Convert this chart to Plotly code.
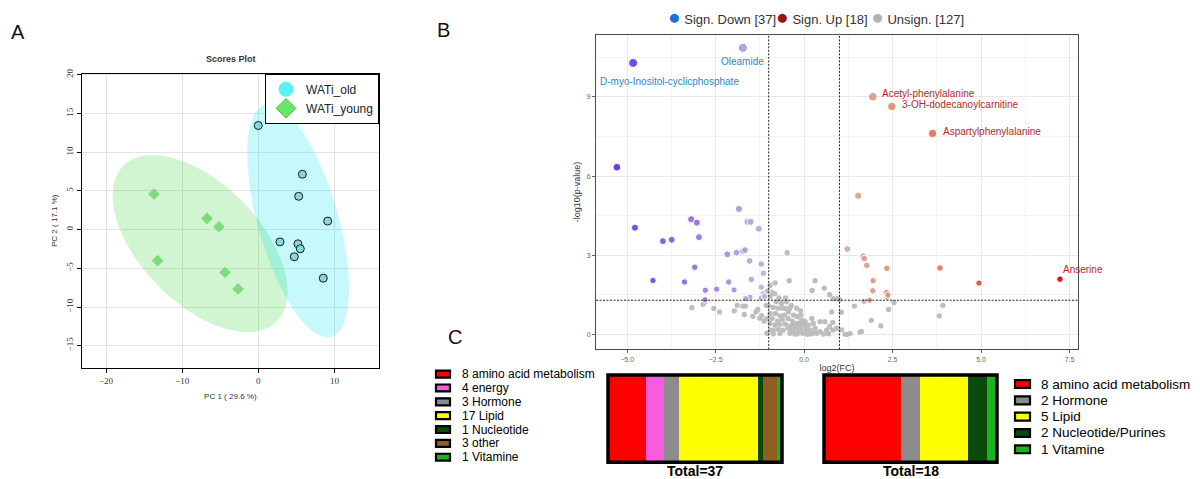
import numpy as np
import plotly.graph_objects as go

# ---------------- Panel A: PCA scores ----------------
old_pc1 = [0.0, 5.79, 5.31, 9.12, 2.85, 5.21, 5.52, 4.73, 8.54]
old_pc2 = [13.46, 7.16, 4.31, 1.11, -1.58, -1.83, -2.47, -3.50, -6.27]
young_pc1 = [-13.71, -6.74, -5.16, -13.22, -4.37, -2.66]
young_pc2 = [4.60, 1.45, 0.38, -4.01, -5.50, -7.67]
group_names = ["WATi_old", "WATi_young"]
pc1_label = "PC 1 ( 29.6 %)"
pc2_label = "PC 2 ( 17.1 %)"
pca_ticks_x = [-20, -10, 0, 10]
pca_ticks_y = [-15, -10, -5, 0, 5, 10, 15, 20]

# ---------------- Panel B: volcano ----------------
down_x = [-1.73, -4.83, -5.29, -4.78, -3.99, -3.74, -3.19, -3.03, -2.97, -4.27,
          -3.38, -3.09, -2.79, -2.47, -2.17, -1.91, -1.73, -1.67, -1.84, -1.60,
          -1.51, -1.28, -1.54, -1.21, -1.15, -2.13, -1.49, -1.98, -1.21, -1.09,
          -1.15, -1.53, -1.65, -1.21, -2.80, -1.12, -1.04]
down_y = [10.86, 10.29, 6.34, 4.05, 3.54, 3.59, 4.37, 4.24, 3.69, 2.05,
          1.99, 2.55, 1.68, 1.72, 3.04, 3.10, 3.16, 3.20, 4.76, 4.27,
          4.27, 4.01, 2.79, 2.67, 2.32, 1.99, 2.09, 1.69, 1.80, 1.59,
          1.55, 1.42, 1.36, 1.39, 1.32, 1.45, 1.65]
down_labels = ["Oleamide", "D-myo-Inositol-cyclicphosphate"] + [""] * 35

up_x = [1.94, 2.48, 3.63, 1.53, 1.22, 1.67, 1.70, 1.77, 2.34, 3.84,
        1.95, 1.94, 2.33, 2.35, 1.85, 4.94, 7.23, 2.37]
up_y = [9.01, 8.64, 7.62, 5.26, 3.24, 2.97, 2.88, 2.62, 2.51, 2.52,
        2.04, 1.66, 1.60, 1.42, 1.30, 1.95, 2.10, 1.50]
up_labels = ["Acetyl-phenylalanine", "3-OH-dodecanoylcarnitine", "Aspartylphenylalanine"] \
    + [""] * 13 + ["Anserine", ""]

gray_x = [-3.17, -2.85, -2.55, -2.39, -1.97, -1.89, -1.73, -1.66, -1.69, -1.45,
          -1.36, -1.31, -1.13, -1.07, -1.05, -1.20, -1.25, -2.80,
          -0.96, -0.82, -0.48, -0.42, 0.31, 0.23, 0.57, 0.72, 0.83, 0.94,
          -0.89, -0.83, -0.71, -0.52, -0.96, -0.93,
          1.42, 1.69, 2.54, 2.39, 1.90, 2.17, 1.62, 3.92, 3.82, 1.06,
          1.21, 1.30, 1.00, 1.05,
          -1.00, -0.87, -0.79, -0.61, -0.53, -0.40, -0.81, -0.68, -0.56, -0.44,
          -0.30, -0.90, -0.75, -0.61, -0.45, -0.33, -0.19, -0.96, -0.82, -0.68,
          -0.53, -0.38, -0.26, -0.12, -0.87, -0.73, -0.59, -0.44, -0.31, -0.16,
          -0.04, 0.03, 0.09, -0.07, -0.21, -0.94, 0.17, 0.25, 0.36, 0.12,
          0.22, 0.26, 0.45, 0.59, 0.64, 0.81, 0.81, 0.78, 0.92, 1.16,
          1.58, -1.05, -0.96, -0.73, -0.64, -0.50, -0.36, -0.21, -0.19, -0.07,
          0.03, -0.09, 0.05, -0.40, -0.26, -0.87, -0.68, -0.19, 0.31, 0.45,
          0.55, 0.69, 0.72, -0.31, -0.14, -0.02, 0.12, 0.19, -0.10]
gray_y = [1.02, 1.15, 0.99, 0.86, 0.90, 1.11, 1.08, 1.08, 0.76, 0.69,
          0.86, 0.95, 0.51, 1.11, 0.05, 0.72, 0.62, 1.24,
          1.86, 1.96, 3.10, 2.04, 2.04, 1.67, 1.76, 1.51, 1.36, 1.36,
          1.57, 1.55, 1.39, 1.39, 1.45, 1.62,
          1.08, 1.26, 1.22, 0.95, 0.54, 0.33, 0.12, 1.11, 0.71, 0.18,
          0.01, 0.04, 1.32, 0.85,
          1.09, 1.03, 1.24, 1.00, 0.99, 1.00, 0.80, 0.71, 0.74, 0.86,
          0.74, 0.61, 0.51, 0.57, 0.61, 0.51, 0.42, 0.42, 0.36, 0.38,
          0.40, 0.34, 0.30, 0.27, 0.17, 0.20, 0.17, 0.24, 0.17, 0.11,
          0.05, 0.11, 0.01, 0.17, 0.24, 0.17, 0.17, 0.05, 0.05, 0.36,
          0.61, 0.42, 0.49, 0.49, 0.17, 0.17, 0.46, 0.86, 0.24, 0.01,
          0.09, 0.61, 0.80, 1.00, 1.18, 1.24, 1.11, 1.00, 0.68, 0.55,
          0.49, 0.74, 0.30, 0.05, 0.02, 0.03, 0.04, 0.03, 0.24, 0.11,
          0.02, 0.03, 0.31, 0.38, 0.40, 0.38, 0.17, 0.02, 0.90]
fc_threshold = 1.0
p_threshold = 0.05
volcano_ticks_x = [-5.0, -2.5, 0.0, 2.5, 5.0, 7.5]
volcano_ticks_y = [0, 3, 6, 9]

# ---------------- Panel C: class composition ----------------
down_classes = ["amino acid metabolism", "energy", "Hormone", "Lipid", "Nucleotide", "other", "Vitamine"]
down_counts = [8, 4, 3, 17, 1, 3, 1]
up_classes = ["amino acid metabolism", "Hormone", "Lipid", "Nucleotide/Purines", "Vitamine"]
up_counts = [8, 2, 5, 2, 1]

class_colors = {
    "amino acid metabolism": "#ff0000",
    "energy": "#f75be0",
    "Hormone": "#8c8c8c",
    "Lipid": "#ffff00",
    "Nucleotide": "#0a4a0a",
    "Nucleotide/Purines": "#0a4a0a",
    "other": "#8f5f22",
    "Vitamine": "#1fb21f",
}

W, H = 1200, 479


def px_x(p):
    return p / W


def px_y(p):
    return 1 - p / H


def conf_ellipse(x, y, n=240):
    x = np.asarray(x, float)
    y = np.asarray(y, float)
    cov = np.cov(x, y)
    vals, vecs = np.linalg.eigh(cov)
    t = np.linspace(0, 2 * np.pi, n)
    r = np.sqrt(5.991)  # 95% chi-square, 2 dof
    circ = np.stack([np.cos(t), np.sin(t)])
    pts = vecs @ (np.sqrt(vals)[:, None] * circ) * r
    return x.mean() + pts[0], y.mean() + pts[1]


fig = go.Figure()

# ---- Panel A traces
ex, ey = conf_ellipse(young_pc1, young_pc2)
fig.add_trace(go.Scatter(x=ex, y=ey, mode="lines", fill="toself", line=dict(width=0),
                         fillcolor="rgba(70,215,70,0.25)", showlegend=False, hoverinfo="skip",
                         xaxis="x", yaxis="y"))
ex, ey = conf_ellipse(old_pc1, old_pc2)
fig.add_trace(go.Scatter(x=ex, y=ey, mode="lines", fill="toself", line=dict(width=0),
                         fillcolor="rgba(0,225,235,0.22)", showlegend=False, hoverinfo="skip",
                         xaxis="x", yaxis="y"))
fig.add_trace(go.Scatter(x=old_pc1, y=old_pc2, mode="markers", name=group_names[0],
                         marker=dict(symbol="circle", size=8, color="#85d9dc",
                                     line=dict(color="#1a1a1a", width=1)),
                         showlegend=False, xaxis="x", yaxis="y"))
fig.add_trace(go.Scatter(x=young_pc1, y=young_pc2, mode="markers", name=group_names[1],
                         marker=dict(symbol="diamond", size=9, color="#7edb7e",
                                     line=dict(width=0)),
                         showlegend=False, xaxis="x", yaxis="y"))
# legend entries for panel A
fig.add_trace(go.Scatter(x=[None], y=[None], mode="markers", name=group_names[0],
                         marker=dict(symbol="circle", size=15, color="#5cf2f4"),
                         xaxis="x", yaxis="y"))
fig.add_trace(go.Scatter(x=[None], y=[None], mode="markers", name=group_names[1],
                         marker=dict(symbol="diamond", size=15, color="#66e866",
                                     line=dict(color="#44c444", width=1)),
                         xaxis="x", yaxis="y"))

# ---- Panel B traces
fig.add_trace(go.Scatter(x=gray_x, y=gray_y, mode="markers", name="Unsign.",
                         marker=dict(size=5.3, color="#bdbdbd"), showlegend=False,
                         xaxis="x2", yaxis="y2"))
dy = np.asarray(down_y)
fig.add_trace(go.Scatter(x=down_x, y=down_y, mode="markers", name="Sign. Down",
                         marker=dict(size=(5.8 + 0.3 * dy).tolist(), color=down_x,
                                     colorscale=[[0, "#5a2fe8"], [1, "#bdb1d6"]],
                                     cmin=min(down_x), cmax=max(down_x), showscale=False,
                                     opacity=0.92),
                         showlegend=False, xaxis="x2", yaxis="y2"))
uy = np.asarray(up_y)
fig.add_trace(go.Scatter(x=up_x, y=up_y, mode="markers", name="Sign. Up",
                         marker=dict(size=(5.8 + 0.3 * uy).tolist(), color=up_x,
                                     colorscale=[[0, "#d9ab9b"], [0.45, "#e4764f"], [1, "#d40c0c"]],
                                     cmin=min(up_x), cmax=max(up_x), showscale=False,
                                     opacity=0.95),
                         showlegend=False, xaxis="x2", yaxis="y2"))

# ---- Panel C traces
for cls, cnt in zip(down_classes, down_counts):
    fig.add_trace(go.Bar(x=[cnt], y=[0], orientation="h", width=1,
                         marker=dict(color=class_colors[cls], line=dict(width=0)),
                         name=cls, showlegend=False, xaxis="x3", yaxis="y3"))
for cls, cnt in zip(up_classes, up_counts):
    fig.add_trace(go.Bar(x=[cnt], y=[0], orientation="h", width=1,
                         marker=dict(color=class_colors[cls], line=dict(width=0)),
                         name=cls, showlegend=False, xaxis="x4", yaxis="y4"))

shapes = []
annotations = []

# threshold lines
for xv in (-fc_threshold, fc_threshold):
    shapes.append(dict(type="line", xref="x2", yref="y2 domain", x0=xv, x1=xv, y0=0, y1=1,
                       line=dict(color="#222222", width=1, dash="2px,1.5px")))
pline = -np.log10(p_threshold)
shapes.append(dict(type="line", xref="x2 domain", yref="y2", x0=0, x1=1, y0=pline, y1=pline,
                   line=dict(color="#222222", width=1, dash="2px,1.5px")))

# volcano labels
down_col = "#3385c4"
up_col = "#b32a2a"
lab_offsets_down = {"Oleamide": (0, -14, "center"),
                    "D-myo-Inositol-cyclicphosphate": (36, -19, "center")}
for xv, yv, lab in zip(down_x, down_y, down_labels):
    if lab:
        xs, ys, anc = lab_offsets_down[lab]
        annotations.append(dict(x=xv, y=yv, xref="x2", yref="y2", text=lab, showarrow=False,
                                xanchor=anc, yanchor="middle", xshift=xs, yshift=ys,
                                font=dict(family="Arial", size=10, color=down_col)))
lab_offsets_up = {"Acetyl-phenylalanine": (7, 3, "left"),
                  "3-OH-dodecanoylcarnitine": (8, 2, "left"),
                  "Aspartylphenylalanine": (8, 2, "left"),
                  "Anserine": (23, 10, "center")}
for xv, yv, lab in zip(up_x, up_y, up_labels):
    if lab:
        xs, ys, anc = lab_offsets_up[lab]
        annotations.append(dict(x=xv, y=yv, xref="x2", yref="y2", text=lab, showarrow=False,
                                xanchor=anc, yanchor="middle", xshift=xs, yshift=ys,
                                font=dict(family="Arial", size=10, color=up_col)))

# volcano legend (top)
dot = '<span style="color:%s;font-size:21px">●</span>'
leg_txt = (dot % "#1f6fd8" + " Sign. Down [%d]" % len(down_x)
           + dot % "#a00e0e" + " Sign. Up [%d] " % len(up_x)
           + dot % "#b3b3b3" + " Unsign. [%d]" % len(gray_x))
annotations.append(dict(x=px_x(816), y=px_y(12), xref="paper", yref="paper", text=leg_txt,
                        showarrow=False, xanchor="center", yanchor="middle",
                        font=dict(family="Arial", size=13, color="#333333")))

# Panel A title
annotations.append(dict(x=px_x(231), y=px_y(55), xref="paper", yref="paper", text="<b>Scores Plot</b>",
                        showarrow=False, xanchor="center", yanchor="middle",
                        font=dict(family="Liberation Sans", size=9, color="#333333")))

# panel letters
for letter, (lx, ly) in {"A": (18, 27), "B": (443, 25), "C": (455, 336)}.items():
    annotations.append(dict(x=px_x(lx), y=px_y(ly), xref="paper", yref="paper", text=letter,
                            showarrow=False, xanchor="center", yanchor="middle",
                            font=dict(family="Arial", size=20, color="#111111")))

# bar outlines and totals
for ax, counts in (("3", down_counts), ("4", up_counts)):
    shapes.append(dict(type="rect", xref="x%s domain" % ax, yref="y%s domain" % ax,
                       x0=0, x1=1, y0=0, y1=1, line=dict(color="#000000", width=3.5)))
    annotations.append(dict(x=0.5, y=px_y(471), xref="x%s domain" % ax, yref="paper",
                            text="<b>Total=%d</b>" % sum(counts), showarrow=False,
                            xanchor="center", yanchor="middle",
                            font=dict(family="Arial", size=14, color="#000000")))


# class legends
def class_legend(classes, counts, sx0, sx1, y0, dy_, tx, fsize, sh):
    for i, (cls, cnt) in enumerate(zip(classes, counts)):
        yc = y0 + dy_ * i
        shapes.append(dict(type="rect", xref="paper", yref="paper",
                           x0=px_x(sx0), x1=px_x(sx1), y0=px_y(yc + sh / 2), y1=px_y(yc - sh / 2),
                           fillcolor=class_colors[cls], line=dict(color="#000000", width=2.2)))
        annotations.append(dict(x=px_x(tx), y=px_y(yc), xref="paper", yref="paper",
                                text="%d %s" % (cnt, cls), showarrow=False,
                                xanchor="left", yanchor="middle",
                                font=dict(family="Arial", size=fsize, color="#000000")))


class_legend(down_classes, down_counts, 436, 450, 373, 14.0, 460, 12, 7)
class_legend(up_classes, up_counts, 1015, 1030, 383, 16.5, 1039, 13.5, 8)

axA = dict(showline=True, mirror=True, linecolor="#000000", linewidth=1, ticks="outside",
           ticklen=4, tickcolor="#000000", showgrid=True, gridcolor="#e3e3e3", zeroline=False,
           tickfont=dict(family="Liberation Serif", size=9, color="#333333"))
axB = dict(showline=True, mirror=True, linecolor="#4a4a4a", linewidth=1, ticks="outside",
           ticklen=3, tickcolor="#666666", showgrid=True, gridcolor="#e8e8e8", gridwidth=0.8,
           zeroline=False, tickfont=dict(family="Arial", size=7, color="#666666"))

fig.update_layout(
    width=W, height=H, autosize=False,
    margin=dict(l=0, r=0, t=0, b=0),
    paper_bgcolor="white", plot_bgcolor="white",
    barmode="stack", bargap=0,
    shapes=shapes, annotations=annotations,
    showlegend=True,
    legend=dict(x=px_x(379), y=px_y(69.5), xanchor="right", yanchor="top",
                bordercolor="#000000", borderwidth=1, bgcolor="white", traceorder="normal",
                font=dict(family="Liberation Sans Narrow, Liberation Sans", size=12, color="#222222"),
                itemwidth=30, tracegroupgap=0),
    xaxis=dict(domain=[px_x(81.7), px_x(379)], range=[-23.2, 15.86], tickvals=pca_ticks_x,
               title=dict(text=pc1_label, font=dict(family="Liberation Sans", size=8, color="#333333"),
                          standoff=8), anchor="y", **axA),
    yaxis=dict(domain=[px_y(366.7), px_y(69.3)], range=[-17.86, 20.17], tickvals=pca_ticks_y,
               tickangle=-90,
               title=dict(text=pc2_label, font=dict(family="Liberation Sans", size=8, color="#333333"),
                          standoff=6), anchor="x", **axA),
    xaxis2=dict(domain=[px_x(596), px_x(1078)], range=[-5.88, 7.74], tickvals=volcano_ticks_x,
                tickformat=".1f", anchor="y2",
                minor=dict(showgrid=True, gridcolor="#f3f3f3", dtick=1.25, tick0=0),
                title=dict(text="log2(FC)", font=dict(family="Arial", size=9, color="#333333"),
                           standoff=2), **axB),
    yaxis2=dict(domain=[px_y(348), px_y(30)], range=[-0.56, 11.36], tickvals=volcano_ticks_y,
                anchor="x2",
                minor=dict(showgrid=True, gridcolor="#f3f3f3", dtick=1.5, tick0=0),
                title=dict(text="-log10(p-value)", font=dict(family="Arial", size=9, color="#333333"),
                           standoff=4), **axB),
    xaxis3=dict(domain=[px_x(608), px_x(782)], range=[0, sum(down_counts)], visible=False,
                anchor="y3", fixedrange=True),
    yaxis3=dict(domain=[px_y(462), px_y(374)], range=[-0.5, 0.5], visible=False, anchor="x3"),
    xaxis4=dict(domain=[px_x(824), px_x(997)], range=[0, sum(up_counts)], visible=False,
                anchor="y4", fixedrange=True),
    yaxis4=dict(domain=[px_y(462), px_y(374)], range=[-0.5, 0.5], visible=False, anchor="x4"),
)

fig.write_html("out.html", config={"displayModeBar": False},
               post_script="document.body.style.margin='0';document.body.style.overflow='hidden';")
